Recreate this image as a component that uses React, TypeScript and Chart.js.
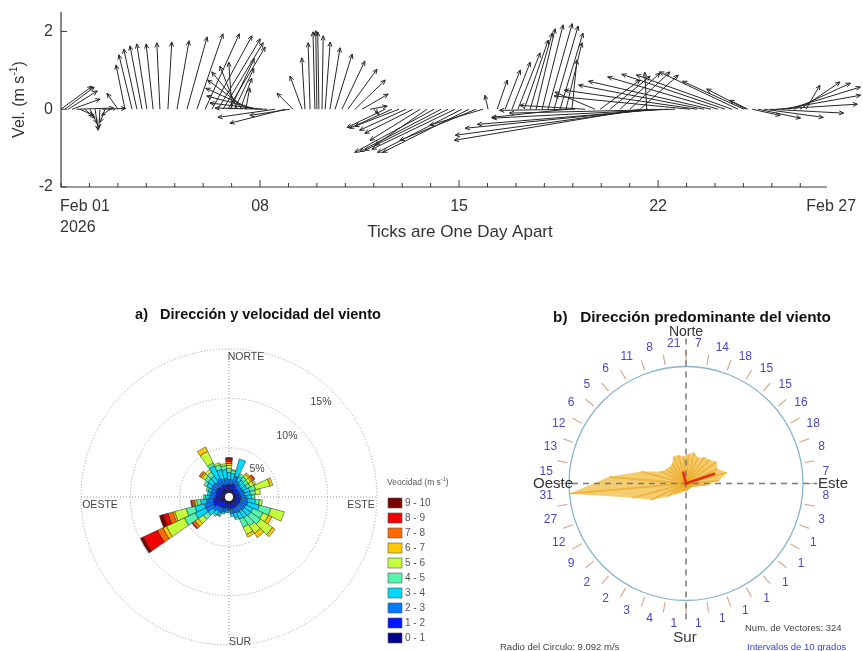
import React, { useEffect, useRef } from "react";
import { Chart, registerables } from "chart.js";

Chart.register(...registerables);

const FONT = '"Liberation Sans", Arial, Helvetica, sans-serif';

// ---------------- Stick plot (velocity vectors) ----------------
const stickDay = [
  0.0, 0.14, 0.25, 0.39, 0.55, 0.67, 0.84, 1.02, 1.2, 1.37, 1.45, 1.55, 1.72, 1.9,
  2.0, 2.25, 2.5, 2.67, 2.85, 3.02, 3.24, 3.48, 3.76, 4.08, 4.43, 4.78, 5.07, 5.31, 5.52, 5.7, 5.87,
  6.01, 6.19, 6.37, 6.54, 6.72, 6.89, 7.07, 7.25, 7.53, 7.88, 8.05,
  5.95, 6.1, 6.3, 6.5,
  8.16, 8.48, 8.58, 8.76, 8.93, 9.0, 9.07, 9.18, 9.29, 9.46, 9.64, 9.88, 10.09, 10.34, 10.59, 10.87, 11.0, 11.1,
  11.4, 11.64, 11.89, 12.13, 12.38, 12.63, 12.87, 13.12, 13.37, 13.61, 13.86, 14.1, 14.35, 14.6, 14.84,
  15.02, 15.34, 15.62, 15.86, 16.07, 16.29, 16.5, 16.71, 16.92, 17.13, 17.34, 17.55, 17.76, 17.97,
  17.8, 18.08, 18.43, 18.78,
  18.96, 19.31, 19.66, 20.01, 20.37, 20.6,
  20.37, 20.65, 20.89, 21.14, 21.35, 21.6,
  22.12, 22.37, 22.62, 22.86, 23.11, 23.36, 23.6, 23.81, 24.02, 24.09, 24.16,
  24.31, 24.52, 24.73, 24.94, 25.15, 25.36, 25.57, 25.78, 25.99, 26.2,
];
const stickU = [
  0.8, 0.75, 0.75, 0.72, 0.95, 0.34, 0.26, 0.18, 0.08, -0.03, 0.6, -0.13, -0.21, -0.05,
  -0.28, -0.23, -0.34, -0.34, -0.31, -0.26, -0.18, -0.08, 0.1, 0.31, 0.52, 0.67, 0.88, 1.03, 1.09, 1.03, 0.96,
  -0.08, -0.44, -0.78, -1.01, -1.19, -1.29, -1.34, -1.34, -1.47, -1.42, -1.03,
  0.62, 0.5, 0.3, 0.1,
  -0.41, -0.31, -0.08, -0.05, -0.05, -0.03, -0.03, 0.03, 0.13, 0.26, 0.44, 0.59, 0.75, 0.78, 0.67, 0.44, 0.08, 0.05,
  -0.98, -1.09, -1.14, -1.19, -1.24, -1.29, -1.34, -2.04, -2.09, -2.14, -2.14, -2.17, -2.22, -1.96, -1.37,
  -0.08, 0.26, 0.39, 0.47, 0.57, 0.62, 0.57, 0.49, 0.54, 0.62, 0.62, 0.59, 0.41, 0.13,
  -1.94, -1.94, -1.68, -1.03,
  1.03, 1.03, 1.03, 1.03, 0.98, -0.05,
  -4.78, -4.96, -4.88, -4.75, -4.52, -4.26,
  -3.49, -3.41, -3.23, -3.15, -2.84, -2.66, -2.46, -2.02, -1.58, -1.01, -0.47,
  0.72, 1.09, 1.52, 1.89, 2.09, 2.02, 1.86, 1.45, 1.03, 0.36,
];
const stickV = [
  0.59, 0.57, 0.47, 0.26, 0.03, -0.16, -0.23, -0.36, -0.54, -0.49, 0.02, -0.34, -0.16, -0.03,
  0.41, 1.14, 1.4, 1.55, 1.63, 1.68, 1.68, 1.71, 1.73, 1.76, 1.86, 1.94, 1.94, 1.89, 1.81, 1.71, 1.6,
  1.21, 1.11, 0.96, 0.75, 0.54, 0.34, 0.16, 0.03, -0.21, -0.36, -0.16,
  1.3, 1.05, 0.8, 0.55,
  0.41, 0.85, 1.32, 1.71, 1.99, 2.02, 1.99, 1.89, 1.73, 1.58, 1.42, 1.24, 1.03, 0.75, 0.39, 0.08, -0.1, -0.15,
  -0.47, -0.49, -0.44, -0.54, -0.62, -0.8, -0.93, -1.11, -1.09, -1.06, -1.03, -1.11, -1.11, -0.8, -0.41,
  0.36, 0.75, 1.01, 1.21, 1.45, 1.78, 1.96, 2.07, 2.17, 2.2, 2.14, 1.96, 1.71, 1.27,
  -0.21, -0.03, 0.1, 0.44,
  0.75, 0.85, 0.93, 0.96, 0.88, 0.95,
  -0.8, -0.67, -0.49, -0.39, -0.23, -0.1,
  0.34, 0.49, 0.62, 0.72, 0.83, 0.9, 0.88, 0.96, 0.72, 0.52, 0.23,
  -0.16, -0.23, -0.21, -0.1, 0.13, 0.36, 0.57, 0.67, 0.7, 0.62,
];
const xDayTicks = [0, 1, 2, 3, 4, 5, 6, 7, 8, 9, 10, 11, 12, 13, 14, 15, 16, 17, 18, 19, 20, 21, 22, 23, 24, 25, 26];
const xMajorDays = [7, 14, 21];
const xLabelDays = [0, 7, 14, 21, 26];
const xLabels = ["Feb 01", "08", "15", "22", "Feb 27"];
const yTickValues = [-2, 0, 2];

// ---------------- Wind rose (a) ----------------
const roseDirections = [0, 10, 20, 30, 40, 50, 60, 70, 80, 90, 100, 110, 120, 130, 140, 150, 160, 170, 180, 190, 200, 210, 220, 230, 240, 250, 260, 270, 280, 290, 300, 310, 320, 330, 340, 350];
const rose0to1 = [0.4, 0.4, 0.4, 0.4, 0.3, 0.3, 0.3, 0.3, 0.3, 0.3, 0.3, 0.3, 0.3, 0.3, 0.3, 0.3, 0.3, 0.3, 0.3, 0.3, 0.3, 0.3, 0.3, 0.4, 0.5, 0.5, 0.5, 0.4, 0.4, 0.4, 0.4, 0.4, 0.4, 0.4, 0.4, 0.4];
const rose1to2 = [0.5, 0.5, 0.6, 0.5, 0.4, 0.4, 0.4, 0.4, 0.4, 0.5, 0.5, 0.5, 0.5, 0.5, 0.5, 0.5, 0.5, 0.5, 0.4, 0.4, 0.5, 0.6, 0.6, 0.6, 0.8, 0.8, 0.7, 0.6, 0.6, 0.6, 0.6, 0.6, 0.5, 0.6, 0.5, 0.5];
const rose2to3 = [0.5, 0.5, 0.8, 0.5, 0.5, 0.4, 0.4, 0.5, 0.5, 0.6, 0.7, 0.8, 0.7, 0.7, 0.6, 0.6, 0.5, 0.5, 0.3, 0.3, 0.4, 0.5, 0.5, 0.6, 0.9, 0.9, 0.7, 0.6, 0.5, 0.5, 0.6, 0.6, 0.6, 0.7, 0.6, 0.6];
const rose3to4 = [0.7, 0.6, 1.8, 0.5, 0.5, 0.5, 0.5, 0.6, 0.6, 0.5, 0.8, 1.2, 0.8, 0.8, 0.8, 0.7, 0.5, 0.3, 0.2, 0.2, 0.2, 0.3, 0.4, 0.6, 1.2, 1.0, 0.6, 0.4, 0.3, 0.3, 0.5, 0.6, 0.7, 1.4, 1.0, 0.9];
const rose4to5 = [0.4, 0.3, 0, 0.3, 0.4, 0.4, 0.4, 0.6, 0.5, 0.3, 0.4, 1.2, 1.1, 1.2, 1.0, 0.9, 0.2, 0, 0, 0, 0, 0.1, 0.2, 0.6, 1.2, 0.9, 0.4, 0.2, 0, 0.2, 0.3, 0.4, 0.5, 0.3, 0.5, 0.4];
const rose5to6 = [0.3, 0.1, 0, 0, 0.3, 0.3, 0.4, 1.5, 0.5, 0, 0.3, 1.4, 0.6, 1.5, 0.9, 0.8, 0, 0, 0, 0, 0, 0, 0, 0.6, 2.0, 1.2, 0.2, 0, 0, 0, 0, 0.3, 0.3, 1.3, 0.2, 0.2];
const rose6to7 = [0.2, 0, 0, 0, 0.2, 0.2, 0.2, 0.3, 0, 0, 0, 0, 0.4, 0.3, 0.5, 0.3, 0, 0, 0, 0, 0, 0, 0, 0.4, 0.4, 0.2, 0.1, 0, 0, 0, 0, 0.2, 0, 0.5, 0, 0];
const rose7to8 = [0.2, 0, 0, 0, 0, 0.2, 0, 0, 0, 0, 0, 0, 0, 0, 0, 0, 0, 0, 0, 0, 0, 0, 0, 0.3, 0.6, 0.5, 0.2, 0, 0, 0, 0, 0.2, 0, 0, 0, 0];
const rose8to9 = [0.3, 0, 0, 0, 0, 0.1, 0, 0, 0, 0, 0, 0, 0, 0, 0, 0, 0, 0, 0, 0, 0, 0, 0, 0.1, 1.6, 0.5, 0.1, 0, 0, 0, 0, 0, 0, 0, 0, 0];
const rose9to10 = [0.1, 0, 0, 0, 0, 0, 0, 0, 0, 0, 0, 0, 0, 0, 0, 0, 0, 0, 0, 0, 0, 0, 0, 0, 0.3, 0.4, 0, 0, 0, 0, 0, 0, 0, 0, 0, 0];
const roseBins = [rose0to1, rose1to2, rose2to3, rose3to4, rose4to5, rose5to6, rose6to7, rose7to8, rose8to9, rose9to10];
const roseBinLabels = ["0 - 1", "1 - 2", "2 - 3", "3 - 4", "4 - 5", "5 - 6", "6 - 7", "7 - 8", "8 - 9", "9 - 10"];
const roseColors = ["#00008c", "#0018ff", "#0078ff", "#00d8ff", "#55f5b0", "#c4ff3c", "#ffc800", "#ff6a00", "#f00000", "#7a0000"];
const roseRings = [5, 10, 15];

// ---------------- Predominant direction (b) ----------------
const sectorDirections = [5, 15, 25, 35, 45, 55, 65, 75, 85, 95, 105, 115, 125, 135, 145, 155, 165, 175, 185, 195, 205, 215, 225, 235, 245, 255, 265, 275, 285, 295, 305, 315, 325, 335, 345, 355];
const sectorCounts = [7, 14, 18, 15, 15, 16, 18, 8, 7, 8, 3, 1, 1, 1, 1, 1, 1, 1, 1, 4, 3, 2, 2, 9, 12, 27, 31, 15, 13, 12, 6, 5, 6, 11, 8, 21];
const sectorMaxSpeed = [2.3, 2.5, 2.2, 2.5, 2.6, 2.9, 2.7, 3.3, 2.6, 1.6, 0.9, 0.6, 0.5, 0.5, 0.5, 0.5, 0.5, 0.6, 0.6, 0.6, 0.7, 0.9, 1.2, 1.8, 3.0, 4.3, 9.09, 6.0, 3.6, 2.2, 1.9, 1.8, 1.9, 2.3, 2.3, 2.1];
const circleRadius = 9.092;
const numVectors = 324;
const meanLineDir = [346, 0, 71];
const meanLineSpeed = [0.96, 0, 2.39];

function drawSupText(ctx: CanvasRenderingContext2D, x: number, y: number, base: string, sup: string, tail: string, size: number, center: boolean) {
  ctx.font = `${size}px ${FONT}`;
  const w1 = ctx.measureText(base).width;
  const w3 = ctx.measureText(tail).width;
  ctx.font = `${size * 0.65}px ${FONT}`;
  const w2 = ctx.measureText(sup).width;
  const total = w1 + w2 + w3;
  const sx = center ? x - total / 2 : x;
  ctx.textAlign = "left";
  ctx.font = `${size}px ${FONT}`;
  ctx.fillText(base, sx, y);
  ctx.font = `${size * 0.65}px ${FONT}`;
  ctx.fillText(sup, sx + w1, y - size * 0.38);
  ctx.font = `${size}px ${FONT}`;
  ctx.fillText(tail, sx + w1 + w2, y);
}

const stickPlugin = {
  id: "stickDraw",
  afterDatasetsDraw(chart: any) {
    const { ctx } = chart;
    const xs = chart.scales.x;
    const ys = chart.scales.y;
    const left = xs.getPixelForValue(xs.min);
    const right = xs.getPixelForValue(xs.max);
    const top = ys.getPixelForValue(ys.max);
    const bottom = ys.getPixelForValue(ys.min);
    const y0 = ys.getPixelForValue(0);
    const unit = y0 - ys.getPixelForValue(1);
    ctx.save();
    ctx.strokeStyle = "#3a3a3a";
    ctx.lineWidth = 1.2;
    ctx.beginPath();
    ctx.moveTo(left, top);
    ctx.lineTo(left, bottom);
    ctx.lineTo(right, bottom);
    ctx.stroke();
    ctx.lineWidth = 1;
    xDayTicks.forEach((d) => {
      const px = xs.getPixelForValue(d);
      const len = xMajorDays.includes(d) ? 7 : 4;
      ctx.beginPath();
      ctx.moveTo(px, bottom);
      ctx.lineTo(px, bottom - len);
      ctx.stroke();
    });
    yTickValues.forEach((v) => {
      const py = ys.getPixelForValue(v);
      ctx.beginPath();
      ctx.moveTo(left, py);
      ctx.lineTo(left + 6, py);
      ctx.stroke();
    });
    ctx.strokeStyle = "#262626";
    ctx.lineWidth = 1;
    stickDay.forEach((d, i) => {
      const bx = xs.getPixelForValue(d);
      const by = y0;
      const tx = bx + stickU[i] * unit;
      const ty = ys.getPixelForValue(stickV[i]);
      const len = Math.hypot(tx - bx, ty - by);
      ctx.beginPath();
      ctx.moveTo(bx, by);
      ctx.lineTo(tx, ty);
      ctx.stroke();
      if (len > 3) {
        const a = Math.atan2(ty - by, tx - bx);
        const h = Math.min(5, len * 0.4);
        ctx.beginPath();
        ctx.moveTo(tx - h * Math.cos(a - 0.42), ty - h * Math.sin(a - 0.42));
        ctx.lineTo(tx, ty);
        ctx.lineTo(tx - h * Math.cos(a + 0.42), ty - h * Math.sin(a + 0.42));
        ctx.stroke();
      }
    });
    ctx.fillStyle = "#333";
    ctx.font = `16px ${FONT}`;
    ctx.textBaseline = "middle";
    ctx.textAlign = "right";
    yTickValues.forEach((v) => ctx.fillText(String(v), left - 8, ys.getPixelForValue(v)));
    xLabelDays.forEach((d, i) => {
      const px = xs.getPixelForValue(d);
      if (i === 0) {
        ctx.textAlign = "left";
        ctx.fillText(xLabels[i], px - 1, bottom + 20);
        ctx.fillText("2026", px - 1, bottom + 41);
      } else if (i === xLabels.length - 1) {
        ctx.textAlign = "left";
        ctx.fillText(xLabels[i], px + 6, bottom + 20);
      } else {
        ctx.textAlign = "center";
        ctx.fillText(xLabels[i], px, bottom + 20);
      }
    });
    ctx.textAlign = "center";
    ctx.font = `17px ${FONT}`;
    ctx.fillText("Ticks are One Day Apart", (left + right) / 2 + 16, bottom + 45);
    ctx.save();
    ctx.translate(20, (top + bottom) / 2);
    ctx.rotate(-Math.PI / 2);
    drawSupText(ctx, 0, 0, "Vel. (m s", "-1", ")", 16, true);
    ctx.restore();
    ctx.restore();
  },
};

const rosePlugin = {
  id: "roseDraw",
  afterDatasetsDraw(chart: any) {
    const { ctx } = chart;
    const xs = chart.scales.x;
    const ys = chart.scales.y;
    const cx = xs.getPixelForValue(0);
    const cy = ys.getPixelForValue(0);
    const k = xs.getPixelForValue(1) - cx;
    const rMax = roseRings[roseRings.length - 1] * k;
    ctx.save();
    ctx.strokeStyle = "#9a9a9a";
    ctx.lineWidth = 1;
    ctx.setLineDash([1, 2]);
    roseRings.forEach((r) => {
      ctx.beginPath();
      ctx.arc(cx, cy, r * k, 0, Math.PI * 2);
      ctx.stroke();
    });
    ctx.beginPath();
    ctx.moveTo(cx - rMax, cy);
    ctx.lineTo(cx + rMax, cy);
    ctx.moveTo(cx, cy - rMax);
    ctx.lineTo(cx, cy + rMax);
    ctx.stroke();
    ctx.setLineDash([]);
    const hole = 0.4;
    ctx.lineWidth = 0.5;
    ctx.strokeStyle = "#222";
    roseDirections.forEach((d, i) => {
      let cum = hole;
      const a0 = ((d - 5 - 90) * Math.PI) / 180;
      const a1 = ((d + 5 - 90) * Math.PI) / 180;
      roseBins.forEach((bin, b) => {
        const v = bin[i];
        if (v <= 0) return;
        const r0 = cum * k;
        const r1 = (cum + v) * k;
        cum += v;
        ctx.beginPath();
        ctx.arc(cx, cy, r1, a0, a1);
        ctx.arc(cx, cy, r0, a1, a0, true);
        ctx.closePath();
        ctx.fillStyle = roseColors[b];
        ctx.fill();
        ctx.stroke();
      });
    });
    ctx.fillStyle = "#fff";
    ctx.beginPath();
    ctx.arc(cx, cy, hole * k, 0, Math.PI * 2);
    ctx.fill();
    ctx.fillStyle = "#444";
    ctx.font = `10.5px ${FONT}`;
    ctx.textBaseline = "middle";
    ctx.textAlign = "center";
    ctx.fillText("NORTE", cx + 17, cy - 140);
    ctx.fillText("SUR", cx + 11, cy + 145);
    ctx.fillText("OESTE", cx - 129, cy + 8);
    ctx.fillText("ESTE", cx + 132, cy + 8);
    ctx.fillText("15%", cx + 92, cy - 95);
    ctx.fillText("10%", cx + 58, cy - 61);
    ctx.fillText("5%", cx + 28, cy - 28);
    ctx.fillStyle = "#111";
    ctx.font = `bold 14.5px ${FONT}`;
    ctx.fillText("a)   Dirección y velocidad del viento", cx + 29, cy - 182);
    ctx.save();
    ctx.fillStyle = "#555";
    drawSupText(ctx, cx + 158, cy - 14, "Veocidad (m s", "-1", ")", 8.5, false);
    ctx.restore();
    ctx.textAlign = "left";
    ctx.font = `10px ${FONT}`;
    for (let j = 0; j < roseBinLabels.length; j++) {
      const b = roseBinLabels.length - 1 - j;
      const yy = cy + 6 + j * 15;
      ctx.fillStyle = roseColors[b];
      ctx.fillRect(cx + 159, yy - 5, 14, 10);
      ctx.strokeStyle = "#555";
      ctx.lineWidth = 0.6;
      ctx.strokeRect(cx + 159, yy - 5, 14, 10);
      ctx.fillStyle = "#555";
      ctx.fillText(roseBinLabels[b], cx + 176, yy);
    }
    ctx.restore();
  },
};

const dirPlugin = {
  id: "dirDraw",
  afterDatasetsDraw(chart: any) {
    const { ctx } = chart;
    const xs = chart.scales.x;
    const ys = chart.scales.y;
    const cx = xs.getPixelForValue(0);
    const cy = ys.getPixelForValue(0);
    const R = xs.getPixelForValue(circleRadius) - cx;
    const pt = (dir: number, s: number) => {
      const a = (dir * Math.PI) / 180;
      return [xs.getPixelForValue(s * Math.sin(a)), ys.getPixelForValue(s * Math.cos(a))];
    };
    ctx.save();
    const pts = sectorDirections.map((d, i) => pt(d, sectorMaxSpeed[i]));
    ctx.fillStyle = "rgba(240,184,58,0.72)";
    ctx.beginPath();
    pts.forEach((p, i) => (i === 0 ? ctx.moveTo(p[0], p[1]) : ctx.lineTo(p[0], p[1])));
    ctx.closePath();
    ctx.fill();
    ctx.strokeStyle = "rgba(236,170,35,0.7)";
    ctx.lineWidth = 1.8;
    pts.forEach((p) => {
      ctx.beginPath();
      ctx.moveTo(cx, cy);
      ctx.lineTo(p[0], p[1]);
      ctx.stroke();
    });
    ctx.strokeStyle = "#88b5ca";
    ctx.lineWidth = 1.3;
    ctx.beginPath();
    ctx.arc(cx, cy, R, 0, Math.PI * 2);
    ctx.stroke();
    ctx.strokeStyle = "#d9a98c";
    ctx.lineWidth = 1.2;
    for (let d = 0; d < 360; d += 10) {
      const a = (d * Math.PI) / 180;
      ctx.beginPath();
      ctx.moveTo(cx + 1.03 * R * Math.sin(a), cy - 1.03 * R * Math.cos(a));
      ctx.lineTo(cx + 1.12 * R * Math.sin(a), cy - 1.12 * R * Math.cos(a));
      ctx.stroke();
    }
    ctx.fillStyle = "#4848c4";
    ctx.font = `12px ${FONT}`;
    ctx.textAlign = "center";
    ctx.textBaseline = "middle";
    sectorDirections.forEach((d, i) => {
      const a = (d * Math.PI) / 180;
      ctx.fillText(String(sectorCounts[i]), cx + 1.2 * R * Math.sin(a), cy - 1.2 * R * Math.cos(a));
    });
    ctx.strokeStyle = "#7a7a7a";
    ctx.lineWidth = 1.5;
    ctx.setLineDash([6, 5]);
    ctx.beginPath();
    ctx.moveTo(cx - 114, cy);
    ctx.lineTo(cx + 131, cy);
    ctx.moveTo(cx, cy - 145);
    ctx.lineTo(cx, cy + 139);
    ctx.stroke();
    ctx.setLineDash([]);
    ctx.strokeStyle = "#e3300c";
    ctx.lineWidth = 2.6;
    ctx.beginPath();
    meanLineDir.forEach((d, i) => {
      const p = pt(d, meanLineSpeed[i]);
      if (i === 0) ctx.moveTo(p[0], p[1]);
      else ctx.lineTo(p[0], p[1]);
    });
    ctx.stroke();
    ctx.fillStyle = "#333";
    ctx.font = `14px ${FONT}`;
    ctx.fillText("Norte", cx, cy - 151);
    ctx.font = `15px ${FONT}`;
    ctx.fillText("Sur", cx - 1, cy + 154);
    ctx.fillText("Oeste", cx - 133, cy);
    ctx.fillText("Este", cx + 147, cy);
    ctx.fillStyle = "#111";
    ctx.font = `bold 15.3px ${FONT}`;
    ctx.fillText("b)   Dirección predominante del viento", cx + 6, cy - 166);
    ctx.textAlign = "left";
    ctx.font = `9.5px ${FONT}`;
    ctx.fillStyle = "#444";
    ctx.fillText(`Radio del Circulo: ${circleRadius.toFixed(3)} m/s`, cx - 186, cy + 164);
    ctx.fillText(`Num. de Vectores: ${numVectors}`, cx + 59, cy + 145);
    ctx.fillStyle = "#3344cc";
    ctx.fillText("Intervalos de 10 grados", cx + 61, cy + 164);
    ctx.restore();
  },
};

function baseOptions(padding: any, xr: number[], yr: number[]) {
  return {
    responsive: false,
    animation: false as const,
    events: [] as any[],
    layout: { padding },
    plugins: { legend: { display: false }, tooltip: { enabled: false } },
    scales: {
      x: { type: "linear" as const, min: xr[0], max: xr[1], display: false },
      y: { type: "linear" as const, min: yr[0], max: yr[1], display: false },
    },
  };
}

export default function App() {
  const r1 = useRef<HTMLCanvasElement>(null);
  const r2 = useRef<HTMLCanvasElement>(null);
  const r3 = useRef<HTMLCanvasElement>(null);

  useEffect(() => {
    const c1 = new Chart(r1.current!, {
      type: "scatter",
      data: { datasets: [{ data: stickDay.map((d, i) => ({ x: d, y: stickV[i] })), pointRadius: 0 }] },
      options: baseOptions({ left: 61, right: 36, top: 12, bottom: 63 }, [0, 26.94], [-2, 2.5]) as any,
      plugins: [stickPlugin],
    });
    const c2 = new Chart(r2.current!, {
      type: "scatter",
      data: { datasets: [{ data: [], pointRadius: 0 }] },
      options: baseOptions({ left: 81, right: 93, top: 59, bottom: 6 }, [-15, 15], [-15, 15]) as any,
      plugins: [rosePlugin],
    });
    const c3 = new Chart(r3.current!, {
      type: "scatter",
      data: { datasets: [{ data: [], pointRadius: 0 }] },
      options: baseOptions({ left: 61.6, right: 22.6, top: 39.1, bottom: 13.1 }, [-12, 12], [-12, 12]) as any,
      plugins: [dirPlugin],
    });
    return () => {
      c1.destroy();
      c2.destroy();
      c3.destroy();
    };
  }, []);

  return (
    <div style={{ position: "absolute", left: 0, top: 0, width: 863, height: 651, background: "#fff", overflow: "hidden" }}>
      <canvas ref={r1} width={863} height={250} style={{ position: "absolute", left: 0, top: 0 }} />
      <canvas ref={r2} width={470} height={361} style={{ position: "absolute", left: 0, top: 290 }} />
      <canvas ref={r3} width={393} height={361} style={{ position: "absolute", left: 470, top: 290 }} />
    </div>
  );
}
